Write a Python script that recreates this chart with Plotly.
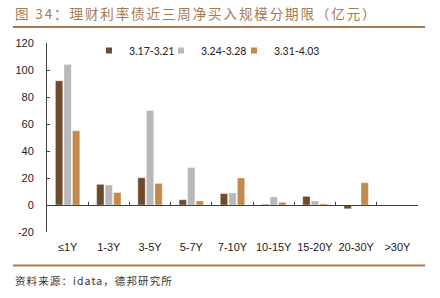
import plotly.graph_objects as go

categories = ["≤1Y", "1-3Y", "3-5Y", "5-7Y", "7-10Y", "10-15Y", "15-20Y", "20-30Y", ">30Y"]
series_names = ["3.17-3.21", "3.24-3.28", "3.31-4.03"]
s1 = [92, 15.3, 20.2, 3.9, 8.4, 0.5, 6.4, -2.8, 0]
s2 = [104, 14.8, 70, 27.7, 8.9, 6, 3, -0.6, 0]
s3 = [55, 9.2, 16, 3, 20, 2, 0.8, 16.5, 0]
colors = ["#6E4B2B", "#B8B8B8", "#C38A4C"]
y_tickvals = [-20, 0, 20, 40, 60, 80, 100, 120]
y_ticktext = ["-20", "0", "20", "40", "60", "80", "100", "120"]

title_text = "图 34：理财利率债近三周净买入规模分期限（亿元）"
source_text = "资料来源：idata，德邦研究所"

W, H = 440, 298
L, R, T, B = 47, 22, 43, 66
pw, ph = W - L - R, H - T - B

def px_x(p):
    return (p - L) / pw

def px_y(p):
    return (H - B - p) / ph

legend_ids = ["legend", "legend2", "legend3"]
legend_px = [89, 161, 234]

fig = go.Figure()
for name, vals, c in zip(series_names, [s1, s2, s3], colors):
    fig.add_trace(go.Bar(
        x=categories, y=vals, name=name, marker_color=c,
        marker_line_color="rgba(255,255,255,0.6)", marker_line_width=0.6,
        showlegend=False, xaxis="x"))
# legend entries (also carry categories for the zero-line axis)
for name, c, lg in zip(series_names, colors, legend_ids):
    fig.add_trace(go.Scatter(
        x=categories, y=[None] * len(categories), name=name, mode="markers",
        marker=dict(symbol="square", size=6, color=c), xaxis="x2",
        showlegend=True, legend=lg))

legend_font = dict(family="Lato, sans-serif", size=10.5, color="#222")
legend_layout = {}
for lg, lx in zip(legend_ids, legend_px):
    legend_layout[lg] = dict(orientation="h", x=px_x(lx), y=px_y(36),
                             xanchor="left", yanchor="top", font=legend_font,
                             bgcolor="rgba(0,0,0,0)")

fig.update_layout(
    width=W, height=H,
    margin=dict(l=L, r=R, t=T, b=B),
    plot_bgcolor="white", paper_bgcolor="white",
    barmode="group", bargap=0.38, bargroupgap=0.14,
    font=dict(family="Liberation Sans, Arial, sans-serif", size=11, color="#222"),
    xaxis=dict(type="category", categoryorder="array", categoryarray=categories,
               range=[-0.5, 8.5], showline=False, ticks="", showgrid=False,
               zeroline=False, tickfont=dict(size=11, color="#222"), ticklabelstandoff=7),
    xaxis2=dict(type="category", categoryorder="array", categoryarray=categories,
                overlaying="x", anchor="free", position=20 / 140, side="bottom",
                range=[-0.5, 8.5], showline=True, linecolor="#404040", linewidth=1,
                ticks="inside", ticklen=3, tickcolor="#404040", tickson="boundaries",
                showticklabels=False, showgrid=False, zeroline=False),
    yaxis=dict(range=[-20, 120], tickvals=y_tickvals, ticktext=y_ticktext,
               showline=True, linecolor="#404040", linewidth=1, ticks="inside",
               ticklen=3, tickcolor="#404040", showgrid=False, zeroline=False,
               tickfont=dict(size=11, color="#222"), ticklabelstandoff=10),
    showlegend=True,
    **legend_layout,
)

fig.add_annotation(text='<span style="letter-spacing:1.9px">' + title_text + '</span>',
                   xref="paper", yref="paper",
                   x=px_x(13), y=px_y(13), xanchor="left", yanchor="middle",
                   showarrow=False,
                   font=dict(family="Noto Sans CJK SC", size=13.5, color="#A57A52"))
fig.add_annotation(text='<span style="letter-spacing:1.1px">' + source_text + '</span>',
                   xref="paper", yref="paper",
                   x=px_x(13), y=px_y(280), xanchor="left", yanchor="middle",
                   showarrow=False,
                   font=dict(family="Noto Sans CJK SC", size=10.5, color="#333"))
fig.add_shape(type="line", xref="paper", yref="paper",
              x0=px_x(13), x1=px_x(425), y0=px_y(27), y1=px_y(27),
              line=dict(color="#A87C55", width=2))
fig.add_shape(type="line", xref="paper", yref="paper",
              x0=px_x(13), x1=px_x(425), y0=px_y(265.5), y1=px_y(265.5),
              line=dict(color="#A87C55", width=2))

fig.write_html("out.html")
